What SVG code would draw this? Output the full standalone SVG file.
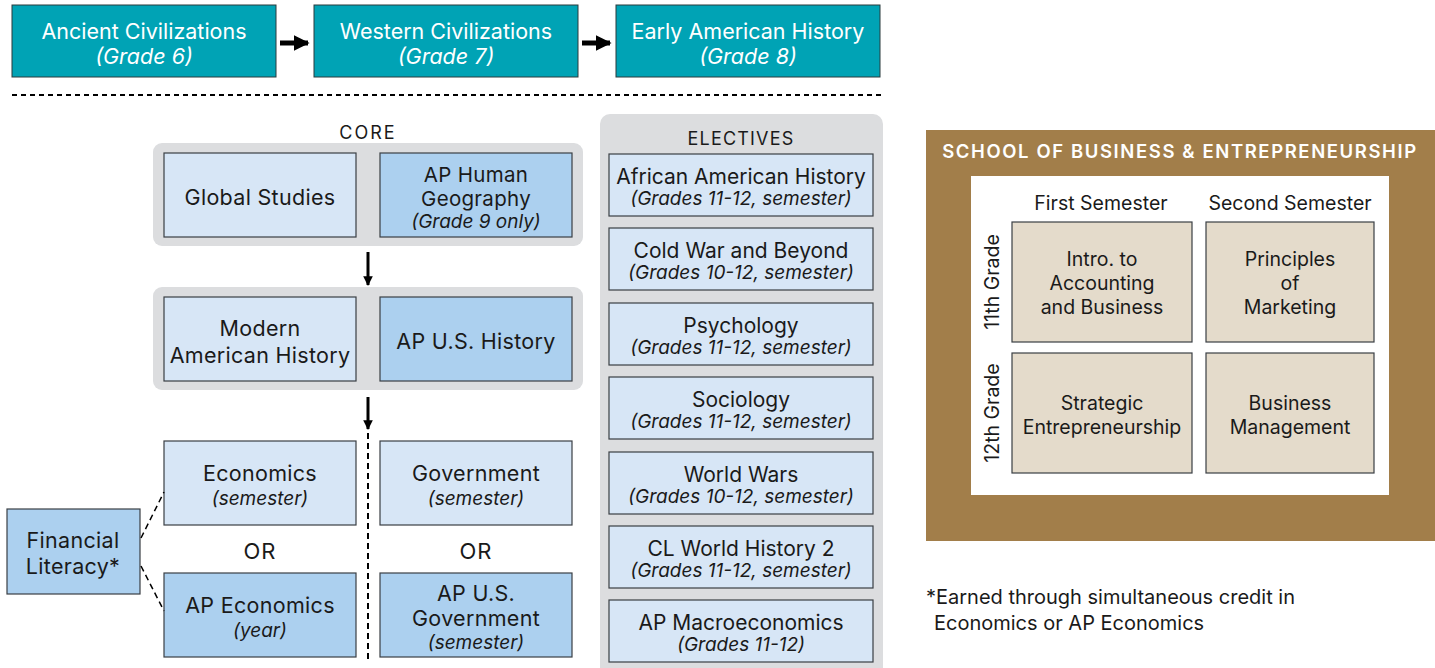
<svg xmlns="http://www.w3.org/2000/svg" width="1435" height="668" viewBox="0 0 1435 668">
<style>
text{font-family:Inter,"Open Sans","Liberation Sans",sans-serif;fill:#1a1a1a;text-anchor:middle;dominant-baseline:central}
.t{fill:#00a3b5;stroke:#2b3a3c;stroke-width:1}
.tt{fill:#fff;font-size:21.5px}
.it{font-style:italic}
.lb{fill:#d7e6f6;stroke:#3a3f44;stroke-width:1.2}
.db{fill:#acd0ef;stroke:#3a3f44;stroke-width:1.2}
.gp{fill:#dcdddf}
.m{font-size:21.5px;letter-spacing:0.3px}
.em{font-size:21px}
.s{font-size:19px;font-style:italic}
.bz{fill:#e4dbcb;stroke:#3a3f44;stroke-width:1.2}
.bt{font-size:19.5px}
.hd{font-size:19.5px}
.cap{font-size:18px}
</style>
<defs>
<marker id="ah" viewBox="0 0 10 10" refX="9" refY="5" markerWidth="3.2" markerHeight="3.2" orient="auto" markerUnits="strokeWidth">
<path d="M0,0 L10,5 L0,10 z" fill="#000"/>
</marker>
</defs>

<!-- top row -->
<g id="ancient"><rect class="t" x="12" y="5" width="264" height="72"/><text class="tt" x="144" y="31">Ancient Civilizations</text><text class="tt it" x="144" y="56">(Grade 6)</text></g>
<g id="western"><rect class="t" x="314" y="5" width="264" height="72"/><text class="tt" x="446" y="31">Western Civilizations</text><text class="tt it" x="446" y="56">(Grade 7)</text></g>
<g id="early"><rect class="t" x="616" y="5" width="264" height="72"/><text class="tt" x="748" y="31">Early American History</text><text class="tt it" x="748" y="56">(Grade 8)</text></g>

<!-- core -->
<text class="cap" x="368" y="132" style="letter-spacing:2px">CORE</text>
<rect class="gp" x="153" y="143" width="430" height="103" rx="9"/>
<rect class="gp" x="153" y="287" width="430" height="103" rx="9"/>
<g id="global"><rect class="lb" x="164" y="153" width="192" height="84"/><text class="m" x="260" y="197">Global Studies</text></g>
<g id="aphg"><rect class="db" x="380" y="153" width="192" height="84"/><text class="m" x="476" y="174" style="font-size:20.5px">AP Human</text><text class="m" x="476" y="198" style="font-size:20.5px">Geography</text><text class="s" x="476" y="221">(Grade 9 only)</text></g>
<g id="modern"><rect class="lb" x="164" y="297" width="192" height="84"/><text class="m" x="260" y="328">Modern</text><text class="m" x="260" y="355">American History</text></g>
<g id="apush"><rect class="db" x="380" y="297" width="192" height="84"/><text class="m" x="476" y="341">AP U.S. History</text></g>
<g id="econ"><rect class="lb" x="164" y="441" width="192" height="84"/><text class="m" x="260" y="473">Economics</text><text class="s" x="260" y="498">(semester)</text></g>
<g id="gov"><rect class="lb" x="380" y="441" width="192" height="84"/><text class="m" x="476" y="473">Government</text><text class="s" x="476" y="498">(semester)</text></g>
<text class="m" x="260" y="551" style="font-size:22px;letter-spacing:1px">OR</text>
<text class="m" x="476" y="551" style="font-size:22px;letter-spacing:1px">OR</text>
<g id="apecon"><rect class="db" x="164" y="573" width="192" height="84"/><text class="m" x="260" y="605">AP Economics</text><text class="s" x="260" y="630">(year)</text></g>
<g id="apgov"><rect class="db" x="380" y="573" width="192" height="84"/><text class="m" x="476" y="593">AP U.S.</text><text class="m" x="476" y="618">Government</text><text class="s" x="476" y="642">(semester)</text></g>
<g id="finlit"><rect class="db" x="7" y="509" width="133" height="85"/><text class="m" x="73" y="540">Financial</text><text class="m" x="73" y="566">Literacy*</text></g>

<!-- electives -->
<g id="electives">
<path class="gp" d="M600,124 a10,10 0 0 1 10,-10 h263 a10,10 0 0 1 10,10 V668 H600 z"/>
<text class="cap" x="741" y="138" style="letter-spacing:1.2px">ELECTIVES</text>
</g>
<g id="e1"><rect class="lb" x="609" y="154" width="264" height="62"/><text class="em" x="741" y="176">African American History</text><text class="s" x="741" y="198">(Grades 11-12, semester)</text></g>
<g id="e2"><rect class="lb" x="609" y="228" width="264" height="62"/><text class="em" x="741" y="250">Cold War and Beyond</text><text class="s" x="741" y="272">(Grades 10-12, semester)</text></g>
<g id="e3"><rect class="lb" x="609" y="303" width="264" height="62"/><text class="em" x="741" y="325">Psychology</text><text class="s" x="741" y="347">(Grades 11-12, semester)</text></g>
<g id="e4"><rect class="lb" x="609" y="377" width="264" height="62"/><text class="em" x="741" y="399">Sociology</text><text class="s" x="741" y="421">(Grades 11-12, semester)</text></g>
<g id="e5"><rect class="lb" x="609" y="452" width="264" height="62"/><text class="em" x="741" y="474">World Wars</text><text class="s" x="741" y="496">(Grades 10-12, semester)</text></g>
<g id="e6"><rect class="lb" x="609" y="526" width="264" height="62"/><text class="em" x="741" y="548">CL World History 2</text><text class="s" x="741" y="570">(Grades 11-12, semester)</text></g>
<g id="e7"><rect class="lb" x="609" y="600" width="264" height="62"/><text class="em" x="741" y="622">AP Macroeconomics</text><text class="s" x="741" y="644">(Grades 11-12)</text></g>

<!-- business -->
<g id="business">
<rect x="926" y="130" width="509" height="411" fill="#a27e4a"/>
<text x="1180" y="151" style="font-size:18.5px;fill:#fff;font-weight:600;letter-spacing:1.6px">SCHOOL OF BUSINESS &amp; ENTREPRENEURSHIP</text>
<rect x="971" y="176" width="418" height="319" fill="#fff"/>
<text class="hd" x="1101" y="203">First Semester</text>
<text class="hd" x="1290" y="203">Second Semester</text>
<text class="hd" transform="translate(992,282) rotate(-90)">11th Grade</text>
<text class="hd" transform="translate(992,413) rotate(-90)">12th Grade</text>
</g>
<g id="b1"><rect class="bz" x="1012" y="222" width="180" height="120"/><text class="bt" x="1102" y="259">Intro. to</text><text class="bt" x="1102" y="283">Accounting</text><text class="bt" x="1102" y="307">and Business</text></g>
<g id="b2"><rect class="bz" x="1206" y="222" width="168" height="120"/><text class="bt" x="1290" y="259">Principles</text><text class="bt" x="1290" y="283">of</text><text class="bt" x="1290" y="307">Marketing</text></g>
<g id="b3"><rect class="bz" x="1012" y="353" width="180" height="120"/><text class="bt" x="1102" y="403">Strategic</text><text class="bt" x="1102" y="427">Entrepreneurship</text></g>
<g id="b4"><rect class="bz" x="1206" y="353" width="168" height="120"/><text class="bt" x="1290" y="403">Business</text><text class="bt" x="1290" y="427">Management</text></g>

<g id="footnote">
<text x="926" y="597" style="font-size:20px;text-anchor:start">*Earned through simultaneous credit in</text>
<text x="934" y="623" style="font-size:20px;text-anchor:start">Economics or AP Economics</text>
</g>

<!-- connectors -->
<g id="connectors" fill="none" stroke="#000">
<line x1="12" y1="95" x2="884" y2="95" stroke-width="2" stroke-dasharray="5,4"/>
<line x1="280" y1="43" x2="308" y2="43" stroke-width="5" marker-end="url(#ah)"/>
<line x1="582" y1="43" x2="610" y2="43" stroke-width="5" marker-end="url(#ah)"/>
<line x1="368" y1="252" x2="368" y2="285" stroke-width="3" marker-end="url(#ah)"/>
<line x1="368" y1="397" x2="368" y2="429" stroke-width="3" marker-end="url(#ah)"/>
<line x1="368" y1="433" x2="368" y2="662" stroke-width="2" stroke-dasharray="6,4"/>
<line x1="141" y1="538" x2="164" y2="492" stroke-width="1.5" stroke-dasharray="6,4"/>
<line x1="141" y1="566" x2="164" y2="611" stroke-width="1.5" stroke-dasharray="6,4"/>
</g>
</svg>
